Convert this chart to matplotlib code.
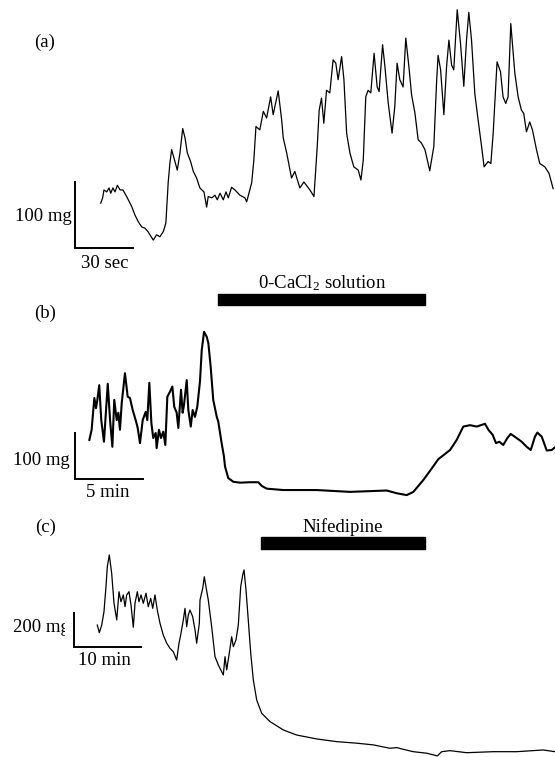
import matplotlib
matplotlib.use("Agg")
import matplotlib.pyplot as plt
from matplotlib.transforms import Bbox, TransformedBbox

# --- panel (a): spontaneous contractions, time in s, tension in mg ---
a_t = [13.3, 14.3, 15.0, 16.4, 17.6, 18.5, 19.6, 20.7, 21.9, 23.3, 24.8, 26.7, 29.3, 31.0,
       32.7, 34.5, 36.2, 37.7, 40.5, 42.2, 43.9, 45.7, 47.0, 48.2, 49.1, 50.0, 51.7, 52.9,
       54.3, 55.7, 56.9, 58.1, 59.8, 61.2, 62.9, 64.6, 66.7, 68.1, 68.9, 70.7, 72.4, 73.6,
       75.0, 76.7, 78.1, 79.3, 81.0, 82.7, 85.3, 87.9, 88.8, 91.4, 92.5, 93.6, 95.6, 97.4,
       99.1, 101.2, 102.5, 105.1, 106.9, 107.7, 109.5, 112.0, 113.7, 116.3, 118.4, 121.5,
       123.6, 125.3, 126.3, 127.5, 128.7, 130.1, 131.8, 133.5, 134.9, 136.1, 137.9, 139.1,
       140.5, 142.2, 144.2, 146.5, 147.9, 149.1, 150.4, 151.6, 153.0, 154.7, 156.3, 157.3,
       159.1, 160.3, 162.0, 164.0, 165.4, 166.6, 168.0, 169.7, 171.1, 172.7, 174.1, 175.8,
       177.5, 179.2, 181.0, 183.5, 185.6, 187.0, 187.8, 189.1, 190.8, 192.2, 193.4, 194.8,
       195.9, 197.7, 199.4, 201.1, 202.5, 203.7, 205.1, 206.8, 208.5, 210.3, 211.6, 213.7,
       215.1, 216.3, 218.3, 220.1, 221.4, 222.8, 224.0, 225.4, 227.5, 229.2, 230.9, 232.1,
       233.5, 235.2, 236.6, 238.7, 240.4, 243.0, 245.2, 247.3]
a_mg = [68, 76, 88, 85, 91, 83, 91, 85, 95, 88, 88, 78, 63, 50,
        40, 32, 30, 25, 12, 20, 17, 25, 38, 99, 129, 149, 131, 118,
        144, 181, 167, 144, 131, 116, 106, 91, 85, 62, 78, 76, 80, 73,
        83, 73, 85, 76, 92, 88, 80, 76, 70, 99, 133, 184, 179, 207,
        197, 229, 202, 238, 194, 167, 144, 106, 116, 91, 100, 88,
        78, 154, 209, 227, 189, 239, 235, 285, 280, 255, 290, 255,
        174, 144, 123, 118, 103, 133, 229, 239, 235, 295, 244, 237,
        308, 275, 220, 174, 214, 280, 255, 244, 318, 275, 232, 205,
        164, 159, 149, 117, 154, 250, 292, 270, 202, 275, 315, 277,
        270, 361, 310, 245, 315, 357, 315, 234, 194, 154, 123, 131,
        128, 174, 282, 267, 229, 219, 229, 340, 265, 229, 209, 204,
        176, 191, 179, 149, 128, 123, 113, 90]

# --- panel (b): 0-CaCl2 solution, time in min, tension in mg ---
b_t = [1.06, 1.23, 1.35, 1.43, 1.55, 1.65, 1.79, 1.94, 2.14, 2.42, 2.59, 2.76, 2.90, 3.08,
       3.20, 3.32, 3.45, 3.69, 3.89, 4.06, 4.26, 4.51, 4.63, 4.80, 5.00, 5.22, 5.34, 5.49,
       5.64, 5.78, 5.96, 6.03, 6.20, 6.35, 6.52, 6.67, 6.82, 7.02, 7.19, 7.33, 7.51, 7.63,
       7.83, 7.95, 8.05, 8.25, 8.37, 8.55, 8.69, 8.86, 9.03, 9.23, 9.36, 9.53, 9.73, 9.85,
       10.02, 10.21, 10.47, 10.58, 10.83, 11.00, 11.08, 11.32, 11.69, 12.19, 12.93, 13.54,
       13.79, 14.16, 15.39, 17.85, 20.31, 23.02, 23.76, 24.50, 24.99, 25.73, 26.35, 26.83,
       27.70, 28.19, 28.68, 29.17, 29.67, 30.28, 30.53, 30.85, 31.09, 31.34, 31.63, 31.93,
       32.18, 32.62, 32.99, 33.36, 33.66, 33.97, 34.15, 34.47, 34.84, 35.21, 35.45]
b_mg = [85, 107, 150, 176, 154, 172, 204, 128, 81, 207, 128, 70, 172, 128,
        144, 107, 165, 230, 179, 176, 150, 125, 111, 78, 128, 146, 128, 209,
        122, 89, 100, 67, 107, 89, 103, 74, 179, 190, 201, 157, 144, 111,
        194, 144, 161, 215, 150, 114, 150, 135, 157, 212, 280, 320, 309, 295,
        244, 172, 135, 125, 78, 49, 27, 2, -6, -8, -7, -7,
        -15, -21, -24, -24, -28, -25, -31, -35, -28, -2, 23, 43,
        63, 85, 114, 117, 114, 120, 107, 96, 78, 81, 74, 89,
        98, 89, 81, 70, 63, 92, 101, 92, 62, 63, 69]
b_bar = (10.57, 25.86)  # min, 0-CaCl2 application

# --- panel (c): nifedipine, time in min, tension in mg ---
c_t = [3.46, 3.77, 4.13, 4.47, 4.77, 4.97, 5.27, 5.63, 5.98, 6.39, 6.73, 7.03, 7.38, 7.64,
       7.89, 8.24, 8.54, 8.89, 9.14, 9.49, 9.74, 10.05, 10.39, 10.80, 11.14, 11.51, 11.81,
       12.15, 12.50, 12.91, 13.40, 13.92, 14.41, 14.91, 15.42, 15.77, 16.02, 16.42, 16.67,
       16.93, 17.17, 17.42, 17.83, 18.18, 18.43, 18.83, 18.93, 19.34, 19.58, 19.83, 20.18,
       20.69, 21.19, 21.69, 22.44, 22.70, 22.95, 23.30, 23.70, 23.95, 24.35, 24.70, 25.06,
       25.36, 25.56, 25.86, 26.20, 26.57, 26.96, 27.47, 28.22, 29.47, 31.47, 33.49, 36.50,
       39.52, 42.53, 45.03, 47.54, 48.55, 49.55, 51.05, 53.07, 54.67, 55.33, 56.58, 59.09,
       63.10, 66.62, 70.63, 72.39]
c_mg = [131, 86, 131, 209, 356, 474, 543, 435, 259, 161, 327, 268, 308, 239,
        308, 327, 249, 118, 259, 327, 268, 308, 259, 318, 239, 288, 229,
        308, 219, 141, 72, 24, -6, -26, -75, 24, 72, 161, 229,
        121, 190, 219, 180, 102, 24, 141, 278, 347, 415, 356, 278,
        121, -55, -104, -163, -55, -133, -45, 62, 4, 43, 131, 356,
        425, 455, 337, 161, -35, -192, -310, -388, -437, -486, -516, -539,
        -555, -564, -574, -594, -590, -600, -614, -623, -639, -614, -608, -620,
        -614, -614, -604, -614]
c_bar = (28.1, 52.8)  # min, nifedipine application

W, H = 555, 757
SERIF = ["Liberation Serif", "DejaVu Serif"]
FS = 13.5

plt.rcParams["mathtext.fontset"] = "custom"
plt.rcParams["mathtext.rm"] = "Liberation Serif"
plt.rcParams["mathtext.it"] = "Liberation Serif:italic"
plt.rcParams["mathtext.default"] = "rm"


def panel_axes(fig, x0, y0, px_per_x, px_per_y):
    """Full-figure axes whose data origin sits at pixel (x0, y0) from top-left."""
    ax = fig.add_axes([0, 0, 1, 1])
    ax.set_xlim(-x0 / px_per_x, (W - x0) / px_per_x)
    ax.set_ylim((y0 - H) / px_per_y, y0 / px_per_y)
    ax.axis("off")
    ax.patch.set_visible(False)
    return ax


def scale_bar(ax, dx, dy):
    ax.plot([0, 0, dx], [dy, 0, 0], color="black", lw=1.4, solid_joinstyle="miter")


fig = plt.figure(figsize=(W / 100, H / 100), dpi=100)

# (a)
ax = panel_axes(fig, 75, 248, 58 / 30, 66 / 100)
ax.plot(a_t, a_mg, color="black", lw=0.9)
scale_bar(ax, 30, 100)
ax.text(-15.5, 311, "(a)", family=SERIF, fontsize=FS, ha="center", va="center")
ax.text(-1.5, 47, "100 mg", family=SERIF, fontsize=FS, ha="right", va="center")
ax.text(15.5, -23, "30 sec", family=SERIF, fontsize=FS, ha="center", va="center")

# (b)
ax = panel_axes(fig, 75, 479, 67.7 / 5, 46 / 100)
ax.plot(b_t, b_mg, color="black", lw=1.5)
scale_bar(ax, 5, 100)
ax.broken_barh([(b_bar[0], b_bar[1] - b_bar[0])], (378, 24), color="black")
ax.text(sum(b_bar) / 2, 426, "0-CaCl$_2$ solution", family=SERIF, fontsize=FS,
        ha="center", va="center")
ax.text(-2.2, 361, "(b)", family=SERIF, fontsize=FS, ha="center", va="center")
ax.text(-0.37, 41, "100 mg", family=SERIF, fontsize=FS, ha="right", va="center")
ax.text(2.44, -30, "5 min", family=SERIF, fontsize=FS, ha="center", va="center")

# (c)
ax = panel_axes(fig, 74.3, 647.3, 66.4 / 10, 34 / 200)
ax.plot(c_t, c_mg, color="black", lw=0.9)
scale_bar(ax, 10, 200)
ax.broken_barh([(c_bar[0], c_bar[1] - c_bar[0])], (578, 71), color="black")
ax.text(sum(c_bar) / 2, 708, "Nifedipine", family=SERIF, fontsize=FS,
        ha="center", va="center")
ax.text(-4.4, 707, "(c)", family=SERIF, fontsize=FS, ha="center", va="center")
lbl = ax.text(-9.16, 119, "200 mg", family=SERIF, fontsize=FS, ha="left", va="center")
# the original label is cut off just before the scale bar
lbl.set_clip_on(True)
lbl.set_clip_box(TransformedBbox(Bbox([[-12, 0], [-1.4, 250]]), ax.transData))
ax.text(4.55, -75, "10 min", family=SERIF, fontsize=FS, ha="center", va="center")

fig.savefig("out.png", dpi=100)
